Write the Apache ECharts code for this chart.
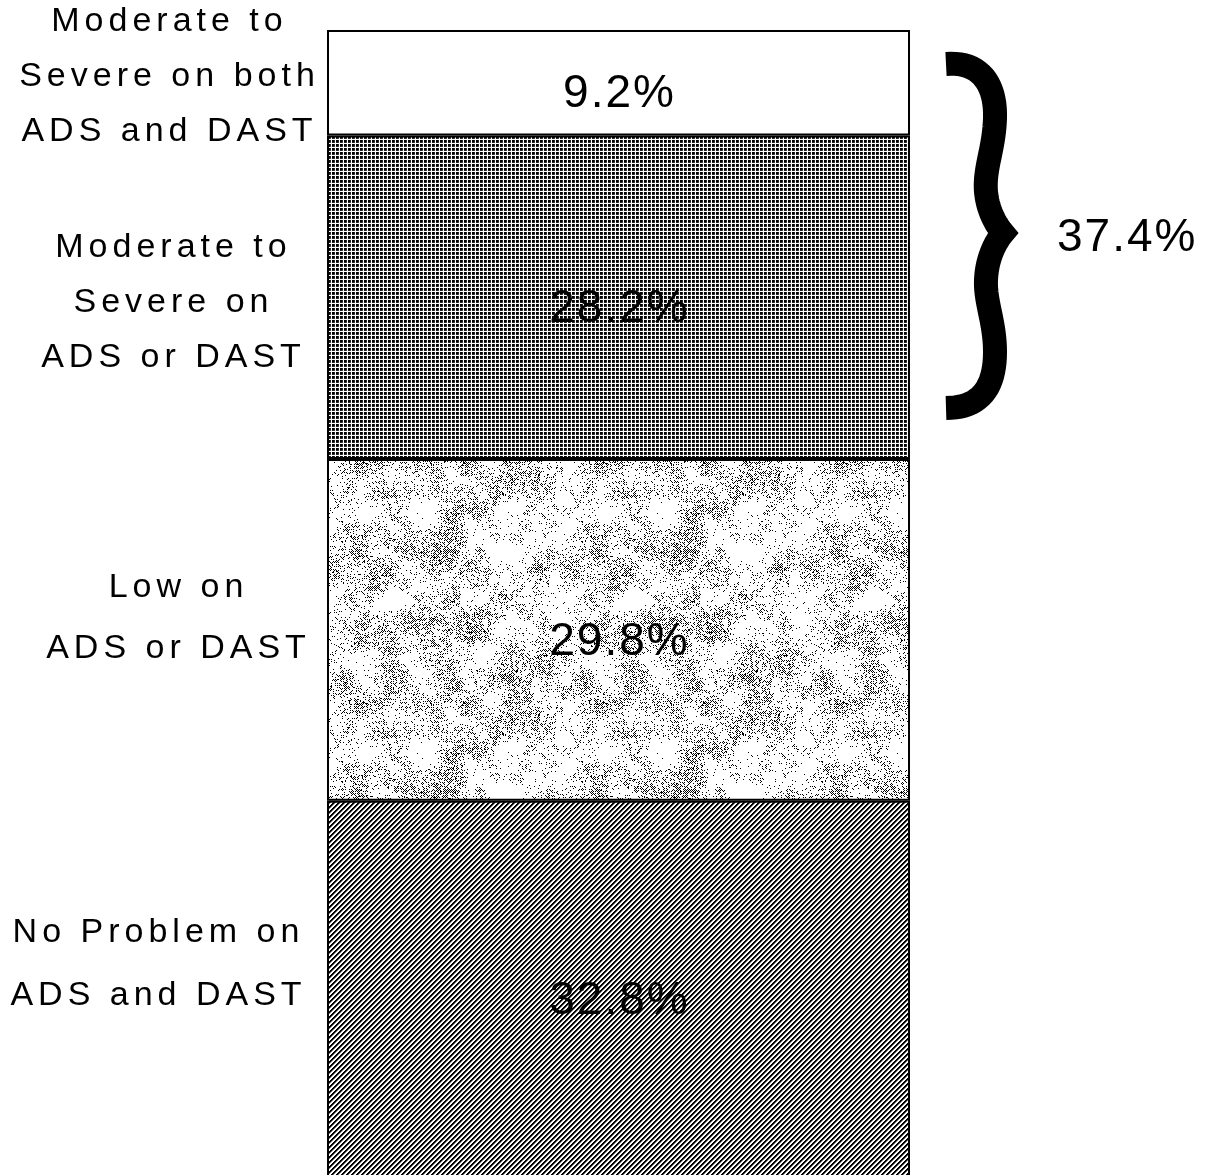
<!DOCTYPE html>
<html>
<head>
<meta charset="utf-8">
<script src="https://cdn.jsdelivr.net/npm/echarts@6/dist/echarts.min.js"></script>
<style>
html,body{margin:0;padding:0;background:#fff;overflow:hidden;}
#chart{width:1212px;height:1175px;}
</style>
</head>
<body>
<div id="chart"></div>
<script>
// ---------- DATA ----------
const categories = ['Sample'];
const segmentNames = [
  'No Problem on ADS and DAST',
  'Low on ADS or DAST',
  'Moderate to Severe on ADS or DAST',
  'Moderate to Severe on both ADS and DAST'
];
const segmentLabelLines = [
  ['No Problem on', 'ADS and DAST'],
  ['Low on', 'ADS or DAST'],
  ['Moderate to', 'Severe on', 'ADS or DAST'],
  ['Moderate to', 'Severe on both', 'ADS and DAST']
];
const segmentValues = [32.8, 29.8, 28.2, 9.2];
const bracketLabel = '37.4%';

// ---------- STYLE / LAYOUT ----------
const FONT = '"Liberation Sans", Arial, Helvetica, sans-serif';
const GRID = {left: 327, top: 30, width: 583, height: 1147};
const nameLabelLayout = [
  {x: 156, dy: -25, lh: 63},
  {x: 176, dy: -12, lh: 61},
  {x: 171, dy: 5, lh: 55},
  {x: 167, dy: -6, lh: 55}
];

// letter spacing emulation for canvas text (by font size)
(function () {
  const orig = CanvasRenderingContext2D.prototype.fillText;
  CanvasRenderingContext2D.prototype.fillText = function (t, x, y, mw) {
    const f = this.font || '';
    let ls = 0;
    if (/(^|\s)34px/.test(f)) ls = 5;
    else if (/(^|\s)46px/.test(f)) ls = 2;
    if (ls && ('letterSpacing' in this)) {
      const prev = this.letterSpacing;
      this.letterSpacing = ls + 'px';
      let xx = x;
      if (this.textAlign === 'center') xx = x + ls / 2;
      else if (this.textAlign === 'right' || this.textAlign === 'end') xx = x + ls;
      if (mw !== undefined) orig.call(this, t, xx, y, mw); else orig.call(this, t, xx, y);
      this.letterSpacing = prev;
    } else {
      if (mw !== undefined) orig.call(this, t, x, y, mw); else orig.call(this, t, x, y);
    }
  };
})();

// ---------- PATTERNS ----------
function makeCanvas(w, h) { const c = document.createElement('canvas'); c.width = w; c.height = h; return c; }
function hash(x, y, s) {
  let h = Math.imul(x | 0, 374761393) ^ Math.imul(y | 0, 668265263) ^ Math.imul(s | 0, 1442695041);
  h = Math.imul(h ^ (h >>> 13), 1274126177);
  h ^= h >>> 16;
  return (h >>> 0) / 4294967296;
}
function vnoise(x, y, cell, period, seed) {
  const gx = Math.floor(x / cell), gy = Math.floor(y / cell);
  let fx = x / cell - gx, fy = y / cell - gy;
  fx = fx * fx * (3 - 2 * fx); fy = fy * fy * (3 - 2 * fy);
  const w = (a) => ((a % period) + period) % period;
  const a = hash(w(gx), w(gy), seed), b = hash(w(gx + 1), w(gy), seed);
  const c = hash(w(gx), w(gy + 1), seed), d = hash(w(gx + 1), w(gy + 1), seed);
  return (a * (1 - fx) + b * fx) * (1 - fy) + (c * (1 - fx) + d * fx) * fy;
}
function dotPattern() {
  const c = makeCanvas(4, 4), ctx = c.getContext('2d');
  ctx.fillStyle = '#fff'; ctx.fillRect(0, 0, 4, 4);
  ctx.fillStyle = '#000'; ctx.fillRect(0, 0, 2.85, 2.85);
  return c;
}
function stripePattern() {
  const n = 5, c = makeCanvas(n, n), ctx = c.getContext('2d');
  const img = ctx.createImageData(n, n);
  for (let y = 0; y < n; y++) for (let x = 0; x < n; x++) {
    const m = (x + y) % n;
    const v = (m === 0 || m === 1) ? 0 : (m === 2 ? 120 : 255);
    const i = (y * n + x) * 4;
    img.data[i] = img.data[i + 1] = img.data[i + 2] = v; img.data[i + 3] = 255;
  }
  ctx.putImageData(img, 0, 0);
  return c;
}
function mottledPattern() {
  const N = 240, c = makeCanvas(N, N), ctx = c.getContext('2d');
  const img = ctx.createImageData(N, N);
  for (let y = 0; y < N; y++) for (let x = 0; x < N; x++) {
    const n = 0.4 * vnoise(x, y, 30, 8, 11) + 0.35 * vnoise(x, y, 15, 16, 23) + 0.25 * vnoise(x, y, 8, 30, 37);
    const d = Math.max(0.02, Math.min(0.85, (n - 0.3) * 1.5));
    let black;
    if ((x + y) % 2 === 0) black = hash(x, y, 71) < d;
    else black = hash(x, y, 91) < d * 0.06;
    const i = (y * N + x) * 4;
    const v = black ? 0 : 255;
    img.data[i] = img.data[i + 1] = img.data[i + 2] = v; img.data[i + 3] = 255;
  }
  ctx.putImageData(img, 0, 0);
  return c;
}
const fills = [
  {image: stripePattern(), repeat: 'repeat'},
  {image: mottledPattern(), repeat: 'repeat'},
  {image: dotPattern(), repeat: 'repeat'},
  '#ffffff'
];

// ---------- CHART ----------
const chart = echarts.init(document.getElementById('chart'), null, {renderer: 'canvas'});
const series = segmentValues.map((v, i) => ({
  name: segmentNames[i],
  type: 'bar',
  stack: 'total',
  barWidth: '100%',
  clip: false,
  data: [v],
  itemStyle: {color: fills[i], borderColor: '#000', borderWidth: 2},
  label: {
    show: true,
    position: 'inside',
    formatter: (p) => p.value.toFixed(1) + '%',
    fontFamily: FONT,
    fontSize: 46,
    color: '#000',
    textBorderWidth: 0,
    offset: [0, 12]
  },
  emphasis: {disabled: true},
  silent: true
}));

chart.setOption({
  animation: false,
  backgroundColor: '#fff',
  grid: {
    left: GRID.left, top: GRID.top, width: GRID.width, height: GRID.height,
    containLabel: false, outerBoundsMode: 'none'
  },
  xAxis: {type: 'category', data: categories, show: false},
  yAxis: {type: 'value', min: 0, max: 100, show: false},
  series: series
});

// annotations computed from data positions
const graphics = [];
let cum = 0;
segmentValues.forEach((v, i) => {
  const mid = cum + v / 2;
  cum += v;
  const py = chart.convertToPixel({gridIndex: 0}, [0, mid])[1];
  const L = nameLabelLayout[i];
  graphics.push({
    type: 'text',
    x: L.x,
    y: py + L.dy,
    silent: true,
    style: {
      text: segmentLabelLines[i].join('\n'),
      font: '34px ' + FONT,
      fill: '#000',
      align: 'center',
      verticalAlign: 'middle',
      textAlign: 'center',
      textVerticalAlign: 'middle',
      lineHeight: L.lh
    }
  });
});

const barRight = GRID.left + GRID.width;
const topY = chart.convertToPixel({gridIndex: 0}, [0, 100])[1];
// brace centreline as cubic segments (relative to bar's top-right corner)
const braceSegs = [
  [[36, 34], [70, 31], [86, 54], [85, 88]],
  [[85, 88], [84, 120], [74, 138], [76, 162]],
  [[76, 162], [78, 182], [87, 196], [93, 203]],
  [[93, 203], [87, 210], [77, 226], [76, 250]],
  [[76, 250], [75, 272], [85, 292], [85, 322]],
  [[85, 322], [85, 358], [70, 378], [36, 378]]
];
const bracePts = [];
braceSegs.forEach((s, si) => {
  const steps = 20;
  for (let k = (si === 0 ? 0 : 1); k <= steps; k++) {
    const t = k / steps, u = 1 - t;
    const x = u*u*u*s[0][0] + 3*u*u*t*s[1][0] + 3*u*t*t*s[2][0] + t*t*t*s[3][0];
    const y = u*u*u*s[0][1] + 3*u*u*t*s[1][1] + 3*u*t*t*s[2][1] + t*t*t*s[3][1];
    bracePts.push([barRight + x, topY + y]);
  }
});
graphics.push({
  type: 'polyline',
  silent: true,
  shape: {points: bracePts},
  style: {fill: null, stroke: '#000', lineWidth: 24, lineJoin: 'miter', miterLimit: 10, lineCap: 'butt'}
});
graphics.push({
  type: 'text',
  x: barRight + 147,
  y: topY + 208,
  silent: true,
  style: {
    text: bracketLabel,
    font: '46px ' + FONT,
    fill: '#000',
    align: 'left',
    verticalAlign: 'middle',
    textAlign: 'left',
    textVerticalAlign: 'middle'
  }
});
chart.setOption({graphic: graphics});
</script>
</body>
</html>
